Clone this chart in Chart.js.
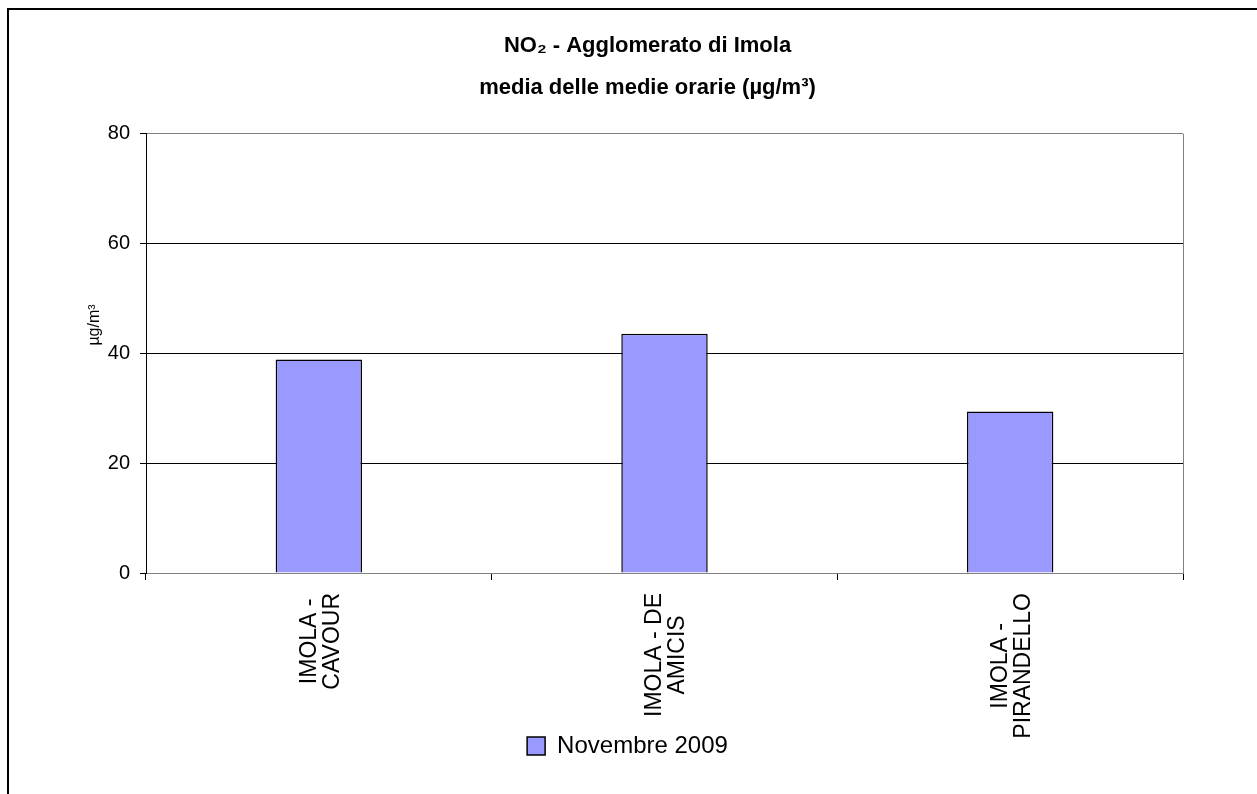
<!DOCTYPE html>
<html>
<head>
<meta charset="utf-8">
<script src="https://cdn.jsdelivr.net/npm/chart.js@4/dist/chart.umd.min.js"></script>
<style>
  html, body { margin: 0; padding: 0; background: #fff; }
  #wrap { width: 1257px; height: 794px; }
</style>
</head>
<body>
<div id="wrap"><canvas id="mycanvas" width="1257" height="794"></canvas></div>
<script>
// data
var stations = [["IMOLA -", "CAVOUR"], ["IMOLA - DE", "AMICIS"], ["IMOLA -", "PIRANDELLO"]];
var seriesName = "Novembre 2009";
var values = [38.9, 43.6, 29.4];
var yTicks = [0, 20, 40, 60, 80];

var FONT = "Arial, 'Liberation Sans', sans-serif";

//-----------------------------------------------------------------------------------------

// frame, right border of the plot, centred category labels, y title
var extras = {
    id: "extras",
    afterLayout: function(chart){
        // title and legend are not centred over the plot in the original
        chart.titleBlock.left += 26;
        chart.titleBlock.right += 26;
        chart.legend.left += 6;
        chart.legend.right += 6;
    },
    beforeDraw: function(chart){
        var ctx = chart.ctx;
        ctx.save();
        ctx.strokeStyle = "#000";
        ctx.lineWidth = 2;
        ctx.beginPath();
        ctx.moveTo(8, 800);
        ctx.lineTo(8, 9);
        ctx.lineTo(1260, 9);
        ctx.stroke();
        ctx.restore();
    },
    afterDraw: function(chart){
        var ctx = chart.ctx;
        var area = chart.chartArea;
        var xs = chart.scales.x;
        ctx.save();
        // right side of plot
        ctx.strokeStyle = "#808080";
        ctx.lineWidth = 1;
        ctx.beginPath();
        ctx.moveTo(area.right + 0.5, area.top);
        ctx.lineTo(area.right + 0.5, area.bottom);
        ctx.stroke();

        // category labels, lines centred in the block
        ctx.fillStyle = "#000";
        ctx.font = "23px " + FONT;
        ctx.textAlign = "center";
        ctx.textBaseline = "middle";
        for (var i = 0; i < stations.length; i++){
            var lines = stations[i];
            var maxW = 0;
            lines.forEach(function(t){ maxW = Math.max(maxW, ctx.measureText(t).width); });
            var cx = xs.getPixelForTick(i) + 2;
            var cy = xs.top + 20 + maxW / 2;
            var pitch = 23;
            lines.forEach(function(t, k){
                var off = (k - (lines.length - 1) / 2) * pitch;
                ctx.save();
                ctx.translate(cx + off, cy);
                ctx.rotate(-Math.PI / 2);
                ctx.fillText(t, 0, 0);
                ctx.restore();
            });
        }

        // y axis title
        ctx.font = "16px " + FONT;
        ctx.save();
        ctx.translate(95, 325);
        ctx.rotate(-Math.PI / 2);
        ctx.fillText("µg/m³", 0, 0);
        ctx.restore();
        ctx.restore();
    }
};

//-----------------------------------------------------------------------------------------

function drawchart(){
    const canvas = document.getElementById("mycanvas");
    const ctx = canvas.getContext("2d");
    new Chart(ctx, {
        type: "bar",
        data: {
            labels: stations,
            datasets: [{
                label: seriesName,
                data: values,
                backgroundColor: "#9999FF",
                borderColor: "#000000",
                borderWidth: 1.5,
                barPercentage: 0.25,
                categoryPercentage: 1
            }]
        },
        options: {
            responsive: false,
            animation: false,
            devicePixelRatio: 1,
            layout: { padding: { left: 60, right: 74, top: 24, bottom: 26 } },
            plugins: {
                title: {
                    display: true,
                    text: ["NO₂ - Agglomerato di Imola", "media delle medie orarie (µg/m³)"],
                    color: "#000",
                    font: { family: FONT, size: 22, weight: "bold", lineHeight: 1.95 },
                    padding: { top: 0, bottom: 24 }
                },
                legend: {
                    position: "bottom",
                    labels: {
                        color: "#000",
                        font: { family: FONT, size: 24 },
                        boxWidth: 18,
                        boxHeight: 18,
                        padding: 10
                    }
                },
                tooltip: { enabled: false }
            },
            scales: {
                x: {
                    offset: true,
                    grid: {
                        offset: true,
                        drawOnChartArea: false,
                        drawTicks: true,
                        tickLength: 7,
                        tickColor: "#000"
                    },
                    border: { display: true, color: "#808080", width: 1 },
                    ticks: { display: false },
                    afterFit: function(s){ s.height = 151; }
                },
                y: {
                    min: 0,
                    max: 80,
                    afterBuildTicks: function(s){ s.ticks = yTicks.map(function(v){ return { value: v }; }); },
                    grid: {
                        color: function(c){ return c.tick && (c.tick.value === 80 || c.tick.value === 0) ? "#808080" : "#000"; },
                        lineWidth: 1,
                        tickLength: 6,
                        tickColor: "#000"
                    },
                    border: { display: true, color: "#000", width: 1 },
                    ticks: {
                        color: "#000",
                        font: { family: FONT, size: 20 },
                        padding: 10
                    },
                    afterFit: function(s){ s.width = 86; }
                }
            }
        },
        plugins: [extras]
    });
}

drawchart();
</script>
</body>
</html>
